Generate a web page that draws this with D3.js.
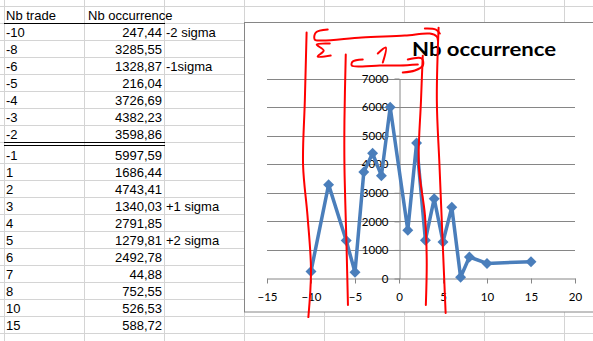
<!DOCTYPE html>
<html>
<head>
<meta charset="utf-8">
<script src="https://cdn.jsdelivr.net/npm/d3@7"></script>
<style>
  body { margin: 0; background: #fff; }
  svg { display: block; }
</style>
</head>
<body>
<div id="my_dataviz"></div>
<script>
// sheet values
var tradeCounts = [-10, -8, -6, -5, -4, -3, -2, -1, 1, 2, 3, 4, 5, 6, 7, 8, 10, 15];
var occurrences = [247.44, 3285.55, 1328.87, 216.04, 3726.69, 4382.23, 3598.86, 5997.59,
                   1686.44, 4743.41, 1340.03, 2791.85, 1279.81, 2492.78, 44.88, 752.55, 526.53, 588.72];
var sigmaNotes = ["-2 sigma", "", "-1sigma", "", "", "", "", "", "", "", "+1 sigma", "", "+2 sigma", "", "", "", "", ""];
var xTicks = [-15, -10, -5, 0, 5, 10, 15, 20];
var yTicks = [0, 1000, 2000, 3000, 4000, 5000, 6000, 7000];

// red pen marks, in chart units [trade, occurrence]
var penStrokes = [
  [[-10.5, 8610], [-10.7, 6230], [-10.9, 3960], [-10.4, 2210], [-10.0, 290], [-10.3, -1350]],
  [[-6.05, 7840], [-6.2, 5530], [-6.2, 3960], [-5.95, 990], [-5.8, -930]],
  [[2.7, 7800], [2.5, 6230], [2.25, 3960], [2.95, 2210], [3.15, 640], [3.05, -930]],
  [[4.5, 8780], [4.3, 6230], [4.6, 3960], [5.0, 990], [5.3, -1210]],
  [[-8.1, 8713], [-9.46, 8608], [-9.58, 8363], [-8.78, 8328], [-4.23, 8433], [0.66, 8503], [3.5, 8573], [4.3, 8468], [4.42, 8328]],
  [[2.94, 8748], [4.19, 8713], [4.64, 8573]],
  [[-7.87, 8223], [-9.35, 8188], [-8.56, 7978], [-9.24, 7768], [-7.76, 7803]],
  [[-4.12, 7664], [-5.26, 7594], [-5.37, 7454], [-4.23, 7419], [-2.18, 7454], [0.09, 7454], [2.14, 7489]],
  [[1.0, 7664], [2.59, 7699], [2.71, 7454], [1.8, 7279], [0.43, 7209]],
  [[-2.41, 7874], [-1.5, 8083], [-1.84, 7559]]
];

var W = 593, H = 341;
var svg = d3.select("#my_dataviz").append("svg")
    .attr("width", W).attr("height", H);

var fmt = function(v){ return d3.format(".2f")(v).replace(".", ","); };

// ---- spreadsheet grid ----
var colLines = [4, 84, 164, 244, 324, 404, 484, 564];
function rowTop(i){ return i < 7 ? 23 + 17 * i : 146 + 17 * (i - 7); }
var rowLines = [6, 23];
for (var i = 1; i <= 21; i++) rowLines.push(i <= 7 ? 23 + 17 * i : 146 + 17 * (i - 7));

var grid = svg.append("g").attr("stroke", "#d4d4d4").attr("shape-rendering", "crispEdges");
grid.selectAll("line.c").data(colLines).enter().append("line")
    .attr("x1", function(d){ return d + 0.5; }).attr("x2", function(d){ return d + 0.5; })
    .attr("y1", 0).attr("y2", H);
grid.selectAll("line.r").data(rowLines).enter().append("line")
    .attr("x1", 0).attr("x2", W)
    .attr("y1", function(d){ return d + 0.5; }).attr("y2", function(d){ return d + 0.5; });

// borders under header and around the -1 row
var borders = svg.append("g").attr("stroke", "#000").attr("shape-rendering", "crispEdges");
borders.append("line").attr("x1", 4).attr("x2", 165).attr("y1", 23.5).attr("y2", 23.5).attr("stroke-width", 1.5);
borders.append("line").attr("x1", 4).attr("x2", 165).attr("y1", 142.5).attr("y2", 142.5);
borders.append("line").attr("x1", 4).attr("x2", 165).attr("y1", 145.5).attr("y2", 145.5);

var table = svg.append("g")
    .style("font-family", "'Liberation Sans', Arial, sans-serif")
    .style("font-size", "13px").attr("fill", "#000");
table.append("text").attr("x", 6).attr("y", 19.5).text("Nb trade");
table.append("text").attr("x", 88).attr("y", 19.5).text("Nb occurrence");

var rows = table.selectAll("g.row").data(tradeCounts).enter().append("g")
    .attr("transform", function(d, i){ return "translate(0," + (rowTop(i) + 14) + ")"; });
rows.append("text").attr("x", 6).text(function(d){ return d; });
rows.append("text").attr("x", 162).attr("text-anchor", "end")
    .text(function(d, i){ return fmt(occurrences[i]); });
rows.append("text").attr("x", 166).text(function(d, i){ return sigmaNotes[i]; });

// ---- chart object ----
svg.append("rect").attr("x", 244.5).attr("y", 22.5).attr("width", 400).attr("height", 289.5)
    .attr("fill", "#fff").attr("stroke", "#868686");

var x = d3.scaleLinear().domain([-15, 20]).range([267, 575]);
var y = d3.scaleLinear().domain([0, 7000]).range([278.5, 78.5]);

var chart = svg.append("g").style("font-family", "Lato, 'Open Sans', sans-serif");

// gridlines
chart.append("g").selectAll("line").data(yTicks.slice(1)).enter().append("line")
    .attr("x1", x(-15)).attr("x2", x(20))
    .attr("y1", function(d){ return Math.round(y(d)) + 0.5; })
    .attr("y2", function(d){ return Math.round(y(d)) + 0.5; })
    .attr("stroke", "#868686").attr("shape-rendering", "crispEdges");

// axes cross at 0,0
var xAxis = chart.append("g")
    .attr("transform", "translate(0," + y(0) + ")")
    .call(d3.axisBottom(x).tickValues(xTicks).tickSize(5).tickSizeOuter(0).tickPadding(9));
var yAxis = chart.append("g")
    .attr("transform", "translate(" + (Math.round(x(0)) + 0.5) + ",0)")
    .call(d3.axisLeft(y).tickValues(yTicks).tickSize(5).tickSizeOuter(0).tickPadding(6).tickFormat(d3.format("d")));
[xAxis, yAxis].forEach(function(a){
    a.select(".domain").attr("stroke", "#868686");
    a.selectAll(".tick line").attr("stroke", "#868686");
    a.selectAll("text").attr("fill", "#000").style("font-size", "11.5px").style("font-family", "Lato, 'Open Sans', sans-serif");
});

// series
var pts = tradeCounts.map(function(d, i){ return [d, occurrences[i]]; });
var line = d3.line().x(function(d){ return x(d[0]); }).y(function(d){ return y(d[1]); });
chart.append("path").datum(pts).attr("d", line)
    .attr("fill", "none").attr("stroke", "#4a7ebb").attr("stroke-width", 3.5).attr("stroke-linejoin", "round");
chart.selectAll("path.mk").data(pts).enter().append("path")
    .attr("d", d3.symbol().type(d3.symbolSquare).size(60))
    .attr("transform", function(d){ return "translate(" + x(d[0]) + "," + y(d[1]) + ") rotate(45)"; })
    .attr("fill", "#4a7ebb");

chart.append("text").attr("x", 412).attr("y", 56)
    .attr("textLength", 144).attr("lengthAdjust", "spacingAndGlyphs")
    .style("font-size", "19.5px").style("font-weight", "bold").attr("fill", "#000")
    .text("Nb occurrence");

// red pen on top
var pen = d3.line().x(function(d){ return x(d[0]); }).y(function(d){ return y(d[1]); })
    .curve(d3.curveCatmullRom);
svg.append("g").selectAll("path").data(penStrokes).enter().append("path")
    .attr("d", pen).attr("fill", "none").attr("stroke", "#f00")
    .attr("stroke-width", 2).attr("stroke-linecap", "round").attr("stroke-linejoin", "round");
</script>
</body>
</html>
